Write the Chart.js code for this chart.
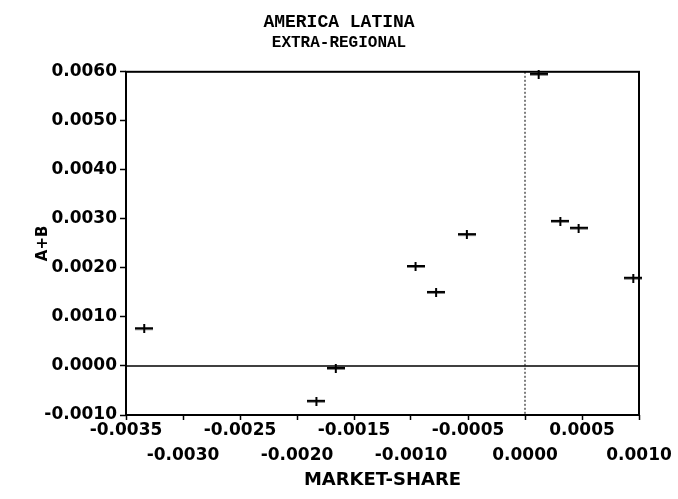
<!DOCTYPE html>
<html>
<head>
<meta charset="utf-8">
<title>America Latina - Extra-regional</title>
<script src="https://cdn.jsdelivr.net/npm/chart.js@4.4.1/dist/chart.umd.min.js"></script>
<style>
    html, body { margin: 0; padding: 0; background: #fff; }
    #wrap { width: 678px; height: 499px; }
</style>
</head>
<body>
<div id="wrap"><canvas id="scatter" width="678" height="499"></canvas></div>
<script>
var marketShare = [-0.00334, -0.00183, -0.00166, -0.00096, -0.00078, -0.00051, 0.00012, 0.00031, 0.00047, 0.00095];
var aPlusB = [0.00076, -0.00072, -0.00005, 0.00203, 0.00150, 0.00268, 0.00595, 0.00295, 0.00281, 0.00179];
var xTicks = [-0.0035, -0.0030, -0.0025, -0.0020, -0.0015, -0.0010, -0.0005, 0.0000, 0.0005, 0.0010];
var yTicks = [-0.0010, 0.0000, 0.0010, 0.0020, 0.0030, 0.0040, 0.0050, 0.0060];

function makeMarker () {
    var c = document.createElement('canvas');
    c.width = 18;
    c.height = 9;
    var g = c.getContext('2d');
    g.fillStyle = '#000';
    g.fillRect(0, 3, 18, 2.5);
    g.fillRect(8, 0, 2, 9);
    return c;
}

// box round the plot, solid line at y=0 and dotted line at x=0
var framePlugin = {
    id: 'frame',
    beforeDatasetsDraw: function (chart) {
        var ctx = chart.ctx;
        var a = chart.chartArea;
        var x0 = chart.scales.x.getPixelForValue(0);
        var y0 = chart.scales.y.getPixelForValue(0);
        ctx.save();
        ctx.strokeStyle = '#000';
        ctx.lineWidth = 1.5;
        ctx.beginPath();
        ctx.moveTo(a.left, y0);
        ctx.lineTo(a.right, y0);
        ctx.stroke();
        ctx.lineWidth = 1;
        ctx.setLineDash([2, 2]);
        ctx.beginPath();
        ctx.moveTo(x0, a.top);
        ctx.lineTo(x0, a.bottom);
        ctx.stroke();
        ctx.setLineDash([]);
        ctx.lineWidth = 2;
        ctx.strokeRect(a.left, a.top, a.right - a.left, a.bottom - a.top);
        ctx.restore();
    }
};

var points = marketShare.map(function (x, i) {
    return { x: x, y: aPlusB[i] };
});

var ctx = document.getElementById('scatter').getContext('2d');

var myChart = new Chart(ctx, {
    type: 'scatter',
    data: {
        datasets: [
            {
                data: points,
                pointStyle: makeMarker(),
                pointRadius: 9,
                backgroundColor: '#000',
                borderColor: '#000'
            }
        ]
    },
    options: {
        responsive: false,
        animation: false,
        devicePixelRatio: 1,
        clip: false,
        layout: { padding: 0 },
        plugins: {
            legend: { display: false },
            tooltip: { enabled: false },
            title: {
                display: true,
                text: 'AMERICA LATINA',
                color: '#000',
                font: { family: 'Liberation Mono', size: 18, weight: 'bold', lineHeight: 1.2 },
                padding: { top: 12, bottom: 0 }
            },
            subtitle: {
                display: true,
                text: 'EXTRA-REGIONAL',
                color: '#000',
                font: { family: 'Liberation Mono', size: 16, weight: 'bold', lineHeight: 1.2 },
                padding: { top: 0, bottom: 19 }
            }
        },
        scales: {
            x: {
                type: 'linear',
                min: -0.0035,
                max: 0.0010,
                afterBuildTicks: function (scale) {
                    scale.ticks = xTicks.map(function (v) { return { value: v }; });
                },
                afterFit: function (scale) {
                    scale.height = 84;
                },
                grid: {
                    drawOnChartArea: false,
                    tickLength: 5,
                    tickColor: '#000',
                    tickWidth: 1.5
                },
                border: { display: false },
                ticks: {
                    autoSkip: false,
                    maxRotation: 0,
                    padding: -2,
                    color: '#000',
                    font: { family: 'DejaVu Sans', size: 17, weight: 'bold', lineHeight: 1.47 },
                    callback: function (value, index) {
                        var s = Number(value).toFixed(4);
                        return index % 2 === 0 ? s : ['', s];
                    }
                },
                title: {
                    display: true,
                    text: 'MARKET-SHARE',
                    color: '#000',
                    font: { family: 'DejaVu Sans', size: 18, weight: 'bold', lineHeight: 1.2 },
                    padding: { top: 0, bottom: 8 }
                }
            },
            y: {
                type: 'linear',
                min: -0.0010,
                max: 0.0060,
                afterBuildTicks: function (scale) {
                    scale.ticks = yTicks.map(function (v) { return { value: v }; });
                },
                afterFit: function (scale) {
                    scale.width = 126;
                },
                grid: {
                    drawOnChartArea: false,
                    tickLength: 6,
                    tickColor: '#000',
                    tickWidth: 1.5
                },
                border: { display: false },
                ticks: {
                    padding: 3,
                    color: '#000',
                    font: { family: 'DejaVu Sans', size: 17, weight: 'bold' },
                    callback: function (value) {
                        return Number(value).toFixed(4);
                    }
                },
                title: {
                    display: true,
                    text: 'A+B',
                    color: '#000',
                    font: { family: 'DejaVu Sans', size: 15, weight: 'bold', lineHeight: 1.2 },
                    padding: { top: 34, bottom: 0 }
                }
            },
            // empty axis on the right, only keeps room beside the plot
            yRight: {
                type: 'linear',
                position: 'right',
                display: true,
                grid: { display: false },
                border: { display: false },
                ticks: { display: false },
                afterFit: function (scale) {
                    scale.width = 39;
                }
            }
        }
    },
    plugins: [framePlugin]
});
</script>
</body>
</html>
